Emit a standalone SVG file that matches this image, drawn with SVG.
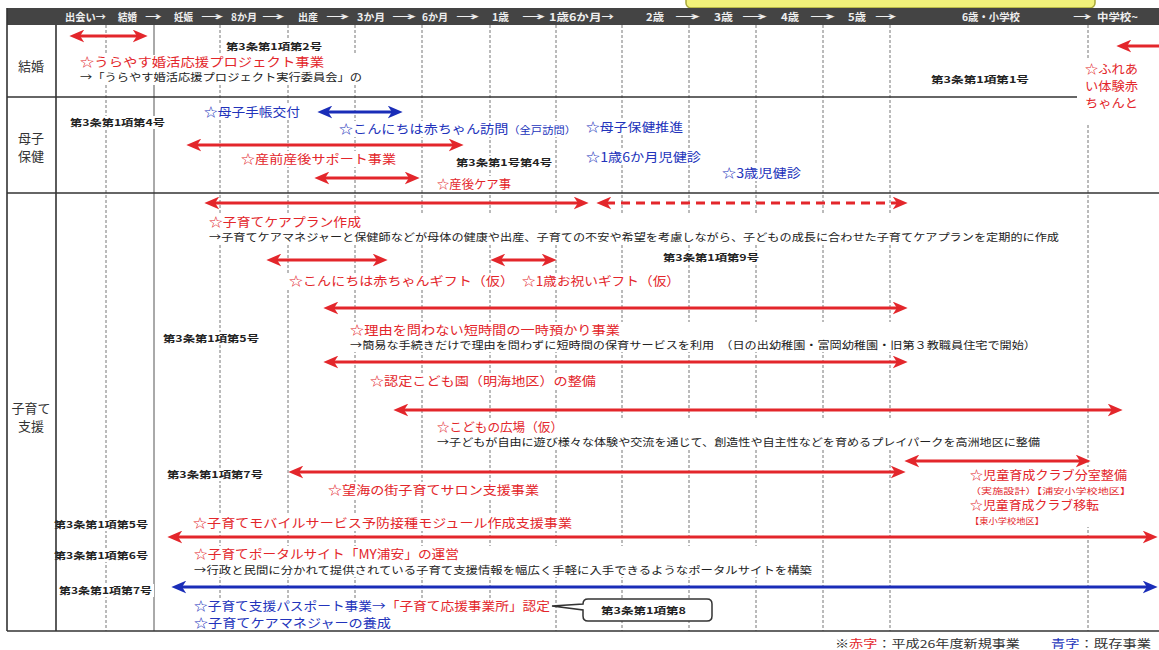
<svg xmlns="http://www.w3.org/2000/svg" width="1159" height="650" viewBox="0 0 1159 650">
<style>
text{font-family:"Noto Sans CJK JP","Noto Sans",sans-serif}
.g{stroke:#777;stroke-width:1;stroke-dasharray:3 2;fill:none}
.gs{stroke:#555;stroke-width:1;fill:none}
.bd{stroke:#333;stroke-width:1.6;fill:none}
.bg{fill:#fff}
.r{fill:#e3262b;font-size:12.5px}
.bl{fill:#2233bb;font-size:12.5px}
.d{fill:#222;font-size:10.5px}
.k{fill:#222;font-size:9.5px;font-weight:bold}
.sr{fill:#e3262b;font-size:8.5px}
.h{fill:#eee;font-size:10.5px;font-weight:bold}
.lab{fill:#333;font-size:13px}
.ar{stroke:#e3262b;stroke-width:3;fill:none}
.ab{stroke:#1a2db8;stroke-width:3;fill:none}
</style>
<defs>
<marker id="mr" viewBox="0 0 14 12" refX="5" refY="6" markerWidth="15" markerHeight="13" markerUnits="userSpaceOnUse" orient="auto-start-reverse"><path d="M0,0 L14,6 L0,12 L4,6 Z" fill="#e3262b"/></marker>
<marker id="mb" viewBox="0 0 14 12" refX="5" refY="6" markerWidth="15" markerHeight="13" markerUnits="userSpaceOnUse" orient="auto-start-reverse"><path d="M0,0 L14,6 L0,12 L4,6 Z" fill="#1a2db8"/></marker>
</defs>
<rect width="1159" height="650" fill="#fff"/>
<rect x="686" y="-8" width="409" height="16" rx="5" fill="#f2f27a" stroke="#a8a83a" stroke-width="1.5"/>

<g id="grid">
<line class="g" x1="106" y1="25" x2="106" y2="631"/>
<line class="gs" x1="154" y1="25" x2="154" y2="631"/>
<line class="g" x1="220" y1="25" x2="220" y2="631"/>
<line class="g" x1="288" y1="25" x2="288" y2="631"/>
<line class="g" x1="355" y1="25" x2="355" y2="631"/>
<line class="g" x1="422" y1="25" x2="422" y2="631"/>
<line class="g" x1="490" y1="25" x2="490" y2="631"/>
<line class="g" x1="556" y1="25" x2="556" y2="631"/>
<line class="g" x1="622" y1="25" x2="622" y2="631"/>
<line class="g" x1="689" y1="25" x2="689" y2="631"/>
<line class="g" x1="756" y1="25" x2="756" y2="631"/>
<line class="g" x1="823" y1="25" x2="823" y2="631"/>
<line class="g" x1="890" y1="25" x2="890" y2="631"/>
<line class="g" x1="1088" y1="25" x2="1088" y2="631"/>
</g>

<g id="header">
<rect x="7" y="8" width="1152" height="17" fill="#444"/>
<text class="h" x="65" y="20.5" textLength="41" lengthAdjust="spacingAndGlyphs">出会い→</text>
<text class="h" x="118" y="20.5" textLength="19" lengthAdjust="spacingAndGlyphs">結婚</text>
<text class="h" x="145" y="20.5" textLength="17" lengthAdjust="spacingAndGlyphs">→</text>
<text class="h" x="174" y="20.5" textLength="19" lengthAdjust="spacingAndGlyphs">妊娠</text>
<text class="h" x="201" y="20.5" textLength="23" lengthAdjust="spacingAndGlyphs">→</text>
<text class="h" x="231" y="20.5" textLength="26" lengthAdjust="spacingAndGlyphs">8か月</text>
<text class="h" x="262" y="20.5" textLength="23" lengthAdjust="spacingAndGlyphs">→</text>
<text class="h" x="298" y="20.5" textLength="20" lengthAdjust="spacingAndGlyphs">出産</text>
<text class="h" x="326" y="20.5" textLength="24" lengthAdjust="spacingAndGlyphs">→</text>
<text class="h" x="357" y="20.5" textLength="28" lengthAdjust="spacingAndGlyphs">3か月</text>
<text class="h" x="392" y="20.5" textLength="25" lengthAdjust="spacingAndGlyphs">→</text>
<text class="h" x="422" y="20.5" textLength="26" lengthAdjust="spacingAndGlyphs">6か月</text>
<text class="h" x="456" y="20.5" textLength="24" lengthAdjust="spacingAndGlyphs">→</text>
<text class="h" x="492" y="20.5" textLength="17" lengthAdjust="spacingAndGlyphs">1歳</text>
<text class="h" x="522" y="20.5" textLength="24" lengthAdjust="spacingAndGlyphs">→</text>
<text class="h" x="549" y="20.5" textLength="65" lengthAdjust="spacingAndGlyphs">1歳6か月→</text>
<text class="h" x="646" y="20.5" textLength="18" lengthAdjust="spacingAndGlyphs">2歳</text>
<text class="h" x="675" y="20.5" textLength="26" lengthAdjust="spacingAndGlyphs">→</text>
<text class="h" x="714" y="20.5" textLength="19" lengthAdjust="spacingAndGlyphs">3歳</text>
<text class="h" x="742" y="20.5" textLength="26" lengthAdjust="spacingAndGlyphs">→</text>
<text class="h" x="781" y="20.5" textLength="18" lengthAdjust="spacingAndGlyphs">4歳</text>
<text class="h" x="810" y="20.5" textLength="26" lengthAdjust="spacingAndGlyphs">→</text>
<text class="h" x="848" y="20.5" textLength="18" lengthAdjust="spacingAndGlyphs">5歳</text>
<text class="h" x="875" y="20.5" textLength="22" lengthAdjust="spacingAndGlyphs">→</text>
<text class="h" x="962" y="20.5" textLength="58" lengthAdjust="spacingAndGlyphs">6歳・小学校</text>
<text class="h" x="1073" y="20.5" textLength="19" lengthAdjust="spacingAndGlyphs">→</text>
<text class="h" x="1097" y="20.5" textLength="41" lengthAdjust="spacingAndGlyphs">中学校~</text>
</g>

<g id="row-labels">
<text class="lab" x="31" y="71" text-anchor="middle">結婚</text>
<text class="lab" x="31" y="143" text-anchor="middle">母子</text>
<text class="lab" x="31" y="161" text-anchor="middle">保健</text>
<text class="lab" x="31" y="413" text-anchor="middle">子育て</text>
<text class="lab" x="31" y="431" text-anchor="middle">支援</text>
</g>

<g id="n-law2"><rect class="bg" x="224" y="40" width="100" height="13"/><text class="k" x="226" y="50" textLength="96" lengthAdjust="spacingAndGlyphs">第3条第1項第2号</text></g>
<g id="n-konkatsu"><rect class="bg" x="78" y="55" width="285" height="30"/><text class="r" x="80" y="67" textLength="244" lengthAdjust="spacingAndGlyphs">☆うらやす婚活応援プロジェクト事業</text><text class="d" x="80" y="81" textLength="282" lengthAdjust="spacingAndGlyphs">→「うらやす婚活応援プロジェクト実行委員会」の</text></g>
<g id="n-law1"><rect class="bg" x="929" y="73" width="102" height="13"/><text class="k" x="931" y="83" textLength="98" lengthAdjust="spacingAndGlyphs">第3条第1項第1号</text></g>
<g id="n-fureai"><rect class="bg" x="1080" y="60" width="64" height="64"/><text class="r" x="1085" y="74" font-size="13" textLength="53" lengthAdjust="spacingAndGlyphs">☆ふれあ</text><text class="r" x="1085" y="91" font-size="13" textLength="53" lengthAdjust="spacingAndGlyphs">い体験赤</text><text class="r" x="1085" y="108" font-size="13" textLength="53" lengthAdjust="spacingAndGlyphs">ちゃんと</text></g>

<g id="n-law4"><rect class="bg" x="68" y="116" width="99" height="13"/><text class="k" x="70" y="126" textLength="95" lengthAdjust="spacingAndGlyphs">第3条第1項第4号</text></g>
<g id="n-techo"><rect class="bg" x="202" y="104" width="100" height="16"/><text class="bl" x="204" y="117" textLength="96" lengthAdjust="spacingAndGlyphs">☆母子手帳交付</text></g>
<g id="n-homon"><rect class="bg" x="337" y="121" width="241" height="16"/><text class="bl" x="339" y="134" textLength="237" lengthAdjust="spacingAndGlyphs">☆こんにちは赤ちゃん訪問<tspan font-size="10">（全戸訪問）</tspan></text></g>
<g id="n-sanzen"><rect class="bg" x="239" y="151" width="159" height="16"/><text class="r" x="241" y="164" textLength="155" lengthAdjust="spacingAndGlyphs">☆産前産後サポート事業</text></g>
<g id="n-law14"><rect class="bg" x="454" y="156" width="100" height="13"/><text class="k" x="456" y="166" textLength="96" lengthAdjust="spacingAndGlyphs">第3条第1号第4号</text></g>
<g id="n-sango"><rect class="bg" x="435" y="176" width="78" height="16"/><text class="r" x="437" y="189" textLength="74" lengthAdjust="spacingAndGlyphs">☆産後ケア事</text></g>
<g id="n-boshi"><rect class="bg" x="584" y="119" width="101" height="16"/><text class="bl" x="586" y="132" textLength="97" lengthAdjust="spacingAndGlyphs">☆母子保健推進</text></g>
<g id="n-18"><rect class="bg" x="584" y="149" width="119" height="16"/><text class="bl" x="586" y="162" textLength="115" lengthAdjust="spacingAndGlyphs">☆1歳6か月児健診</text></g>
<g id="n-3sai"><rect class="bg" x="720" y="165" width="83" height="16"/><text class="bl" x="722" y="178" textLength="79" lengthAdjust="spacingAndGlyphs">☆3歳児健診</text></g>

<g id="n-careplan"><rect class="bg" x="207" y="214" width="854" height="31"/><text class="r" x="209" y="227" textLength="152" lengthAdjust="spacingAndGlyphs">☆子育てケアプラン作成</text><text class="d" x="209" y="241" textLength="850" lengthAdjust="spacingAndGlyphs">→子育てケアマネジャーと保健師などが母体の健康や出産、子育ての不安や希望を考慮しながら、子どもの成長に合わせた子育てケアプランを定期的に作成</text></g>
<g id="n-law9"><rect class="bg" x="661" y="251" width="100" height="13"/><text class="k" x="663" y="261" textLength="96" lengthAdjust="spacingAndGlyphs">第3条第1項第9号</text></g>
<g id="n-gift1"><rect class="bg" x="287" y="273" width="229" height="16"/><text class="r" x="289" y="286" textLength="225" lengthAdjust="spacingAndGlyphs">☆こんにちは赤ちゃんギフト（仮）</text></g>
<g id="n-gift2"><rect class="bg" x="520" y="273" width="162" height="16"/><text class="r" x="522" y="286" textLength="158" lengthAdjust="spacingAndGlyphs">☆1歳お祝いギフト（仮）</text></g>
<g id="n-law5a"><rect class="bg" x="161" y="332" width="100" height="13"/><text class="k" x="163" y="342" textLength="96" lengthAdjust="spacingAndGlyphs">第3条第1項第5号</text></g>
<g id="n-ichiji"><rect class="bg" x="348" y="322" width="690" height="30"/><text class="r" x="350" y="335" textLength="270" lengthAdjust="spacingAndGlyphs">☆理由を問わない短時間の一時預かり事業</text><text class="d" x="350" y="349" textLength="686" lengthAdjust="spacingAndGlyphs">→簡易な手続きだけで理由を問わずに短時間の保育サービスを利用　（日の出幼稚園・富岡幼稚園・旧第３教職員住宅で開始）</text></g>
<g id="n-nintei"><rect class="bg" x="368" y="373" width="230" height="16"/><text class="r" x="370" y="386" textLength="226" lengthAdjust="spacingAndGlyphs">☆認定こども園（明海地区）の整備</text></g>
<g id="n-hiroba"><rect class="bg" x="435" y="419" width="607" height="30"/><text class="r" x="437" y="432" textLength="126" lengthAdjust="spacingAndGlyphs">☆こどもの広場（仮）</text><text class="d" x="437" y="446" textLength="603" lengthAdjust="spacingAndGlyphs">→子どもが自由に遊び様々な体験や交流を通じて、創造性や自主性などを育めるプレイパークを高洲地区に整備</text></g>
<g id="n-law7a"><rect class="bg" x="165" y="468" width="100" height="13"/><text class="k" x="167" y="478" textLength="96" lengthAdjust="spacingAndGlyphs">第3条第1項第7号</text></g>
<g id="n-salon"><rect class="bg" x="326" y="482" width="215" height="16"/><text class="r" x="328" y="495" textLength="211" lengthAdjust="spacingAndGlyphs">☆望海の街子育てサロン支援事業</text></g>
<g id="n-club"><rect class="bg" x="968" y="467" width="166" height="60"/><text class="r" x="970" y="480" textLength="157" lengthAdjust="spacingAndGlyphs">☆児童育成クラブ分室整備</text><text class="sr" x="970" y="493.5" textLength="161" lengthAdjust="spacingAndGlyphs">（実施設計）【浦安小学校地区】</text><text class="r" x="970" y="510" font-size="12" textLength="129" lengthAdjust="spacingAndGlyphs">☆児童育成クラブ移転</text><text class="sr" x="970" y="523.5" textLength="74" lengthAdjust="spacingAndGlyphs">【東小学校地区】</text></g>
<g id="n-law5b"><rect class="bg" x="52" y="518" width="98" height="13"/><text class="k" x="54" y="528" textLength="94" lengthAdjust="spacingAndGlyphs">第3条第1項第5号</text></g>
<g id="n-mobile"><rect class="bg" x="191" y="515" width="383" height="16"/><text class="r" x="193" y="528" textLength="379" lengthAdjust="spacingAndGlyphs">☆子育てモバイルサービス予防接種モジュール作成支援事業</text></g>
<g id="n-law6"><rect class="bg" x="52" y="549" width="98" height="13"/><text class="k" x="54" y="559" textLength="94" lengthAdjust="spacingAndGlyphs">第3条第1項第6号</text></g>
<g id="n-portal"><rect class="bg" x="192" y="546" width="622" height="31"/><text class="r" x="194" y="558.5" textLength="265" lengthAdjust="spacingAndGlyphs">☆子育てポータルサイト「MY浦安」の運営</text><text class="d" x="194" y="574" textLength="618" lengthAdjust="spacingAndGlyphs">→行政と民間に分かれて提供されている子育て支援情報を幅広く手軽に入手できるようなポータルサイトを構築</text></g>
<g id="n-law7b"><rect class="bg" x="57" y="584" width="97" height="13"/><text class="k" x="59" y="594" textLength="93" lengthAdjust="spacingAndGlyphs">第3条第1項第7号</text></g>
<g id="n-passport"><rect class="bg" x="192" y="598" width="362" height="33"/><text class="bl" x="194" y="611" textLength="356" lengthAdjust="spacingAndGlyphs">☆子育て支援パスポート事業→<tspan fill="#e3262b">「子育て応援事業所」認定</tspan></text><text class="bl" x="194" y="628" textLength="197" lengthAdjust="spacingAndGlyphs">☆子育てケアマネジャーの養成</text></g>
<g id="n-law8"><path d="M588,599 H707 Q712,599 712,604 V616 Q712,621 707,621 H588 Q583,621 583,616 V610 L552,606 L583,604 Q583,599 588,599 Z" fill="#fff" stroke="#333" stroke-width="1.5"/><text class="k" x="601" y="614" textLength="85" lengthAdjust="spacingAndGlyphs">第3条第1項第8</text></g>

<g id="borders">
<line class="bd" x1="7" y1="8" x2="7" y2="631"/>
<line class="bd" x1="56" y1="25" x2="56" y2="631"/>
<line class="bd" x1="7" y1="97" x2="1077" y2="97"/>
<line class="bd" x1="7" y1="193" x2="1159" y2="193"/>
<line class="bd" x1="7" y1="631" x2="1159" y2="631"/>
</g>

<g id="connectors">
<line class="ar" x1="79" y1="36" x2="138" y2="36" marker-start="url(#mr)" marker-end="url(#mr)"/>
<line class="ar" x1="1126" y1="46" x2="1165" y2="46" marker-start="url(#mr)"/>
<line class="ab" x1="327" y1="112" x2="393" y2="112" marker-start="url(#mb)" marker-end="url(#mb)"/>
<line class="ar" x1="196" y1="145" x2="454" y2="145" marker-start="url(#mr)" marker-end="url(#mr)"/>
<line class="ar" x1="324" y1="178" x2="410" y2="178" marker-start="url(#mr)" marker-end="url(#mr)"/>
<line class="ar" x1="214" y1="203" x2="579" y2="203" marker-start="url(#mr)" marker-end="url(#mr)"/>
<line class="ar" x1="606" y1="203" x2="898" y2="203" stroke-dasharray="9 6" marker-start="url(#mr)" marker-end="url(#mr)"/>
<line class="ar" x1="276" y1="260" x2="378" y2="260" marker-start="url(#mr)" marker-end="url(#mr)"/>
<line class="ar" x1="500" y1="260" x2="547" y2="260" marker-start="url(#mr)" marker-end="url(#mr)"/>
<line class="ar" x1="333" y1="308" x2="898" y2="308" marker-start="url(#mr)" marker-end="url(#mr)"/>
<line class="ar" x1="333" y1="362" x2="898" y2="362" marker-start="url(#mr)" marker-end="url(#mr)"/>
<line class="ar" x1="403" y1="410" x2="1113" y2="410" marker-start="url(#mr)" marker-end="url(#mr)"/>
<line class="ar" x1="298" y1="472" x2="896" y2="472" marker-start="url(#mr)" marker-end="url(#mr)"/>
<line class="ar" x1="914" y1="461" x2="1081" y2="461" marker-start="url(#mr)" marker-end="url(#mr)"/>
<line class="ar" x1="177" y1="537" x2="1148" y2="537" marker-start="url(#mr)" marker-end="url(#mr)"/>
<line class="ab" x1="181" y1="587" x2="1148" y2="587" marker-start="url(#mb)" marker-end="url(#mb)"/>
</g>

<g id="footer">
<text x="835" y="648" font-size="11" textLength="185" lengthAdjust="spacingAndGlyphs"><tspan fill="#222">※</tspan><tspan fill="#e3262b">赤字</tspan><tspan fill="#333">：平成26年度新規事業</tspan></text>
<text x="1051" y="648" font-size="11" textLength="100" lengthAdjust="spacingAndGlyphs"><tspan fill="#2233bb">青字</tspan><tspan fill="#333">：既存事業</tspan></text>
</g>
</svg>
